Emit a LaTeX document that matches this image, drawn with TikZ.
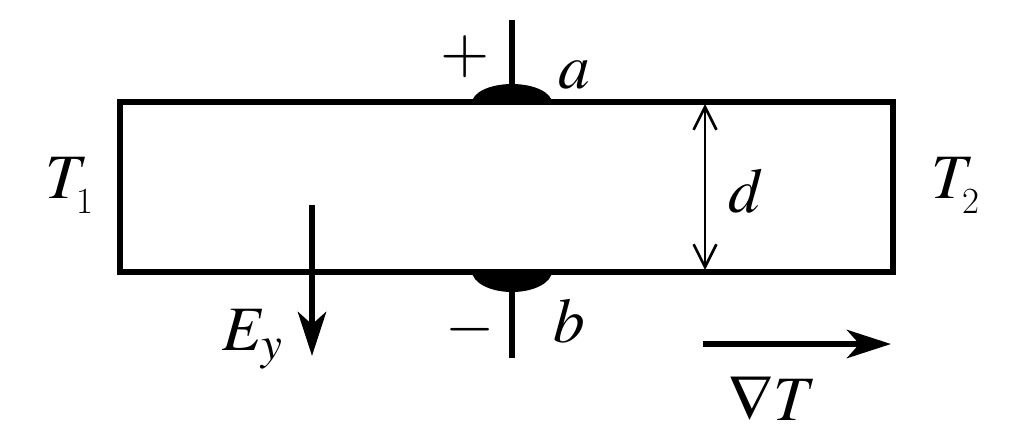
\documentclass[tikz,border=0pt]{standalone}
\usepackage{amsmath}
\usepackage{mathptmx}
\usepackage{tikz}
\usetikzlibrary{arrows.meta}

\newcommand{\lowsub}[1]{\kern-7pt\raisebox{-9pt}{\fontsize{21}{21}\selectfont #1}}

\begin{document}
\begin{tikzpicture}[x=0.02cm,y=-0.02cm,
    plate/.style={line width=3.4pt},
    wire/.style={line width=3.8pt},
    field/.style={-{Stealth[length=25pt,width=16pt,inset=7pt]},line width=3.8pt},
    gap/.style={{Straight Barb[length=13pt,width=13pt]}-{Straight Barb[length=13pt,width=13pt]},line width=1.5pt},
    lbl/.style={inner sep=0pt,anchor=base west,font=\fontsize{36}{40}\selectfont}]
    \useasboundingbox (0,0) rectangle (1024,441);

    \coordinate (SW) at (120,272);
    \coordinate (NE) at (893,102);
    \coordinate (A) at (512,102);
    \coordinate (B) at (512,272);
    \coordinate (Atop) at (512,20);
    \coordinate (Bbot) at (512,358);

    \draw[plate] (SW) rectangle (NE);
    \fill (472,103) arc[start angle=180,end angle=360,x radius=40,y radius=19];
    \fill (472,271) arc[start angle=180,end angle=0,x radius=40,y radius=21];
    \draw[wire] (A) -- (Atop);
    \draw[wire] (B) -- (Bbot);

    \coordinate (Dtop) at (705,104);
    \coordinate (Dbot) at (705,270);
    \draw[gap] (Dtop) -- (Dbot);

    \coordinate (E0) at (312,205);
    \coordinate (E1) at (312,356);
    \draw[field] (E0) -- (E1);
    \coordinate (G0) at (703,344);
    \coordinate (G1) at (891,344);
    \draw[field] (G0) -- (G1);

    \node[lbl] (t1) at (45,198) {$T$\lowsub{1}};
    \node[lbl] (t2) at (931,198) {$T$\lowsub{2}};
    \node[lbl] (a) at (558,88) {$a$};
    \node[lbl] (b) at (553,342) {$b$};
    \node[lbl] (d) at (728,212) {$d$};
    \node[lbl] (ey) at (222,350) {$E_y$};
    \node[lbl] (grad) at (728,420) {$\nabla T$};
    \node[inner sep=0pt,font=\fontsize{36}{40}\selectfont] (plus) at (465,57) {$+$};
    \node[inner sep=0pt,font=\fontsize{36}{40}\selectfont] (minus) at (470,330) {$-$};
\end{tikzpicture}
\end{document}
